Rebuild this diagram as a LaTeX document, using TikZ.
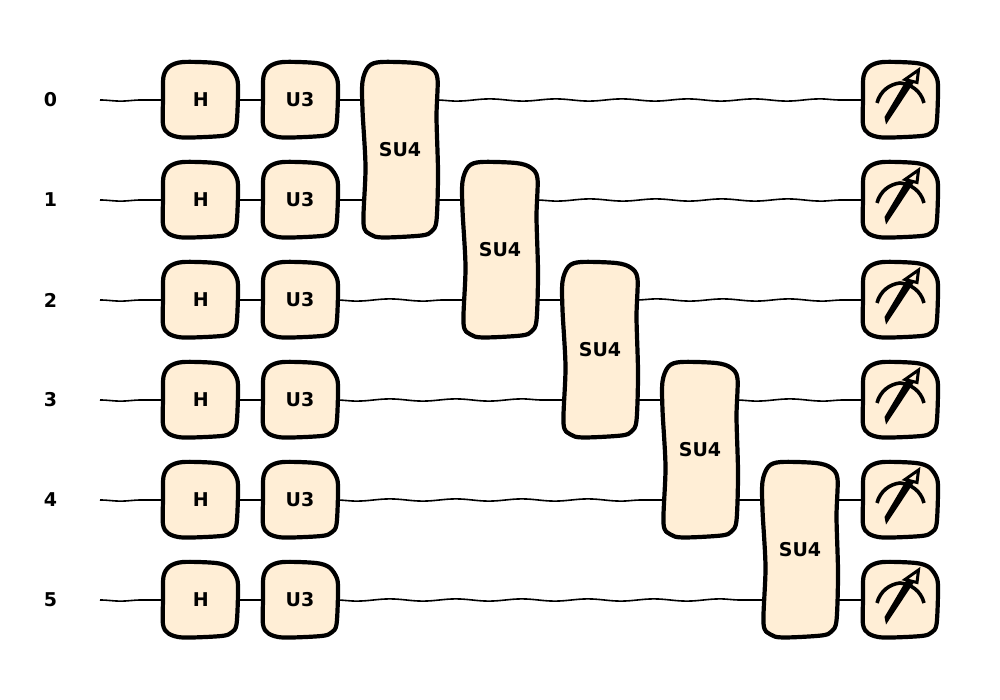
\documentclass[tikz,border=0pt]{standalone}
\usepackage{fontspec}
\setmainfont{DejaVu Sans}
\usetikzlibrary{decorations.pathmorphing,backgrounds}
\definecolor{gatefill}{HTML}{FFEED6}
\tikzset{
  gateline/.style={draw=black,fill=gatefill,line width=4.2pt,line join=round},
  gatetext/.style={font=\fontsize{19}{21}\selectfont\bfseries,inner sep=0pt,text=black},
  smallgate/.style={gatetext,minimum width=72pt,minimum height=72pt},
  tallgate/.style={gatetext,minimum width=72pt,minimum height=172pt},
  qlabel/.style={gatetext},
  wire/.style={draw=black,line width=1.6pt,decorate,
    decoration={snake,segment length=66pt,amplitude=1.1pt}},
  dipwire/.style={wire,decoration={snake,segment length=66pt,amplitude=1.1pt,mirror}},
  shortwire/.style={draw=black,line width=1.6pt}
}
\newcommand{\smallbox}[2]{%
  \draw[gateline,shift={#1}] plot[smooth cycle,tension=0.5] coordinates
   {(-17,-38) (16,-37) (29.5,-32.5) (37,-21.5) (38,-7) (36.5,24.5) (31.5,32.5) (21.5,36) (-17,37.5) (-31.5,33.5) (-37,24.5) (-37,0) (-36.5,-23.5) (-30.5,-33.5)};
  \node[smallgate] (#2) at #1 {};}
\newcommand{\tallbox}[2]{%
  \draw[gateline,shift={#1}] plot[smooth cycle,tension=0.5] coordinates
   {(-19,-88) (16,-87) (30.5,-82.5) (37.5,-71.5) (36.5,-33) (38,23) (36.5,70.5) (31.5,81.5) (21.5,85.5) (-17,87.5) (-29.5,84.5) (-36.5,73.5) (-34.5,17) (-37.5,-40) (-37.5,-68.5) (-31.5,-83.5)};}
\newcommand{\meterglyph}[1]{%
  \begin{scope}[shift={#1}]
    \draw[black,line width=3.6pt] (-23,3) .. controls (-20,-9) and (-10,-16) .. (0,-17) .. controls (11,-16) and (21,-9) .. (24,3);
    \fill[black] (-15.5,17) -- (-14,24.5) -- (13.5,-17) -- (7,-21) -- cycle;
    \draw[black,fill=gatefill,line width=3pt,line join=miter] (5,-20.5) -- (18.5,-30) -- (17,-17.5) -- cycle;
  \end{scope}}
\begin{document}
\begin{tikzpicture}[x=1pt,y=-1pt]
\useasboundingbox (0,0) rectangle (1000,700);
\foreach \r/\y in {0/100,1/200,2/300,3/400,4/500,5/600}{
  \node[qlabel] (q\r) at (50.5,\y) {\r};
  \coordinate (s\r) at (100,\y);
  \smallbox{(200,\y)}{H\r}
  \node[gatetext] at ([xshift=0.7pt]H\r.center) {H};
  \smallbox{(300,\y)}{U\r}
  \node[gatetext] at (U\r) {U3};
  \smallbox{(900,\y)}{M\r}
  \meterglyph{(M\r)}
}
\foreach \n/\x/\y in {a/400/150,b/500/250,c/600/350,d/700/450,e/800/550}{
  \tallbox{(\x,\y)}{\n}
  \node[tallgate] (\n) at (\x,\y) {SU4};
}
\begin{pgfonlayer}{background}
\foreach \r in {0,...,5}{
  \draw[dipwire] (s\r) -- (H\r.west);
  \draw[shortwire] (H\r.east) -- (U\r.west);
}
\draw[shortwire] (U0.east) -- (U0.east -| a.west);
\draw[shortwire] (U1.east) -- (U1.east -| a.west);
\draw[dipwire] (U0.east -| a.east) -- (M0.west);
\draw[shortwire] (U1.east -| a.east) -- (U1.east -| b.west);
\draw[dipwire] (U1.east -| b.east) -- (M1.west);
\draw[dipwire] (U2.east) -- (U2.east -| b.west);
\draw[shortwire] (U2.east -| b.east) -- (U2.east -| c.west);
\draw[wire] (U2.east -| c.east) -- (M2.west);
\draw[dipwire] (U3.east) -- (U3.east -| c.west);
\draw[shortwire] (U3.east -| c.east) -- (U3.east -| d.west);
\draw[dipwire] (U3.east -| d.east) -- (M3.west);
\draw[dipwire] (U4.east) -- (U4.east -| d.west);
\draw[shortwire] (U4.east -| d.east) -- (U4.east -| e.west);
\draw[shortwire] (U4.east -| e.east) -- (M4.west);
\draw[dipwire] (U5.east) -- (U5.east -| e.west);
\draw[shortwire] (U5.east -| e.east) -- (M5.west);
\end{pgfonlayer}
\end{tikzpicture}
\end{document}
